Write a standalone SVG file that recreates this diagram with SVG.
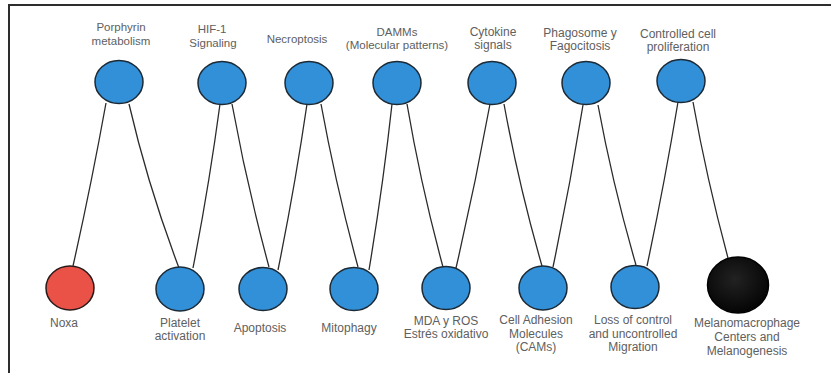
<svg xmlns="http://www.w3.org/2000/svg" width="831" height="373" viewBox="0 0 831 373">
<style>
.n{fill:#3290d8;stroke:#1c2a36;stroke-width:1.5}
.red{fill:#ea5247;stroke:#2a1a1a;stroke-width:1.5}
.blk{fill:url(#bg);stroke:#000;stroke-width:1.5}
.e{fill:none;stroke:#2b2b2b;stroke-width:1.3}
text{font-family:"Liberation Sans",Arial,sans-serif;fill:#606060;text-anchor:middle}
.t{font-size:11.5px}
.b{font-size:12px}
</style>
<defs>
<radialGradient id="bg" cx="0.45" cy="0.4" r="0.6">
<stop offset="0" stop-color="#222"/>
<stop offset="1" stop-color="#050505"/>
</radialGradient>
</defs>
<rect x="0" y="0" width="831" height="373" fill="#fff"/>
<path d="M9,373 V5 H831" fill="none" stroke="#2d2d2d" stroke-width="2"/>
<g id="connectors">
<path class="e" d="M73,266 Q91,186 106,103"/>
<path class="e" d="M129,104 Q148,186 179,268"/>
<path class="e" d="M193,268 Q209,186 220,104"/>
<path class="e" d="M232,104 Q247,186 269,267"/>
<path class="e" d="M278,270 Q295,186 307,104"/>
<path class="e" d="M321,104 Q336,186 358,267"/>
<path class="e" d="M369,270 Q383,186 392,104"/>
<path class="e" d="M407,104 Q421,186 443,267"/>
<path class="e" d="M456,268 Q475,186 490,104"/>
<path class="e" d="M504,104 Q519,186 542,266"/>
<path class="e" d="M553,267 Q570,186 583,105"/>
<path class="e" d="M598,105 Q613,186 636,265"/>
<path class="e" d="M647,266 Q664,186 678,102"/>
<path class="e" d="M693,102 Q707,180 728,258"/>
</g>
<g id="porphyrin"><ellipse class="n" cx="119" cy="82" rx="24" ry="21.5"/><text class="t" x="121" y="31">Porphyrin</text><text class="t" x="121" y="45">metabolism</text></g>
<g id="hif1"><ellipse class="n" cx="222" cy="83" rx="24" ry="21.5"/><text class="t" x="212" y="33">HIF-1</text><text class="t" x="213" y="47">Signaling</text></g>
<g id="necroptosis"><ellipse class="n" cx="309" cy="83" rx="24" ry="21.5"/><text class="t" x="297" y="43">Necroptosis</text></g>
<g id="damms"><ellipse class="n" cx="397" cy="83" rx="24" ry="21.5"/><text class="t" x="397" y="36">DAMMs</text><text class="t" x="397" y="49">(Molecular patterns)</text></g>
<g id="cytokine"><ellipse class="n" cx="492" cy="83" rx="24" ry="21.5"/><text class="b" x="493" y="36">Cytokine</text><text class="b" x="493" y="49">signals</text></g>
<g id="phagosome"><ellipse class="n" cx="586" cy="83" rx="24" ry="21.5"/><text class="b" x="580" y="37">Phagosome y</text><text class="b" x="580" y="50">Fagocitosis</text></g>
<g id="controlled"><ellipse class="n" cx="681" cy="81" rx="24" ry="21.5"/><text class="b" x="678" y="38">Controlled cell</text><text class="b" x="678" y="51">proliferation</text></g>
<g id="noxa"><ellipse class="red" cx="70" cy="288" rx="24" ry="22"/><text class="b" x="64" y="327">Noxa</text></g>
<g id="platelet"><ellipse class="n" cx="180" cy="289" rx="24" ry="22"/><text class="b" x="180" y="327">Platelet</text><text class="b" x="180" y="340">activation</text></g>
<g id="apoptosis"><ellipse class="n" cx="263" cy="289" rx="24" ry="21.5"/><text class="b" x="260" y="332">Apoptosis</text></g>
<g id="mitophagy"><ellipse class="n" cx="354" cy="289" rx="24" ry="21.5"/><text class="b" x="349" y="332">Mitophagy</text></g>
<g id="mda"><ellipse class="n" cx="446" cy="288" rx="24" ry="21.5"/><text class="b" x="446" y="325">MDA y ROS</text><text class="b" x="446" y="338">Estrés oxidativo</text></g>
<g id="cams"><ellipse class="n" cx="543" cy="288" rx="24" ry="22"/><text class="b" x="536" y="324">Cell Adhesion</text><text class="b" x="536" y="338">Molecules</text><text class="b" x="536" y="351">(CAMs)</text></g>
<g id="loss"><ellipse class="n" cx="635" cy="287" rx="24" ry="21.5"/><text class="b" x="633" y="324">Loss of control</text><text class="b" x="633" y="338">and uncontrolled</text><text class="b" x="633" y="351">Migration</text></g>
<g id="melano"><ellipse class="blk" cx="738" cy="285" rx="30.5" ry="28"/><text class="b" x="747" y="327">Melanomacrophage</text><text class="b" x="747" y="341">Centers and</text><text class="b" x="747" y="355">Melanogenesis</text></g>
</svg>
